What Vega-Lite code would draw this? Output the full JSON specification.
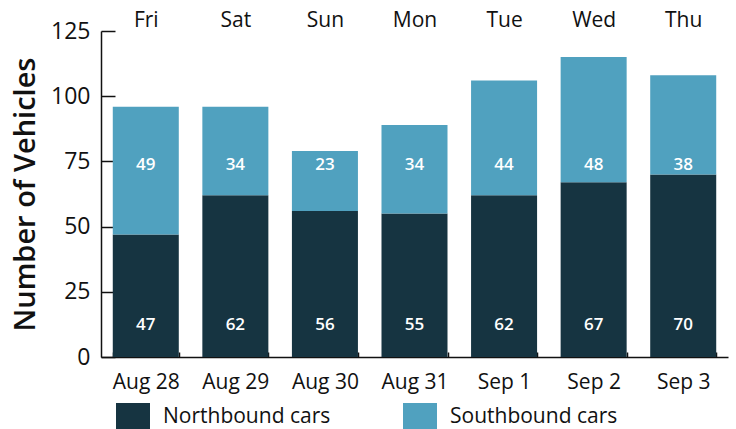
{
  "$schema": "https://vega.github.io/schema/vega-lite/v6.json",
  "width": 627,
  "height": 326,
  "autosize": {"type": "none"},
  "padding": {"left": 101, "top": 31, "right": 8, "bottom": 72},
  "config": {
    "font": "Open Sans",
    "view": {"stroke": null},
    "axis": {"labelFont": "Open Sans", "titleFont": "Open Sans", "labelColor": "#111111", "titleColor": "#111111", "domainColor": "#111111", "tickColor": "#111111", "labelFontWeight": 500}
  },
  "data": {
    "values": [
      {"date": "Aug 28", "day": "Fri", "direction": "Northbound cars", "count": 47},
      {"date": "Aug 28", "day": "Fri", "direction": "Southbound cars", "count": 49},
      {"date": "Aug 29", "day": "Sat", "direction": "Northbound cars", "count": 62},
      {"date": "Aug 29", "day": "Sat", "direction": "Southbound cars", "count": 34},
      {"date": "Aug 30", "day": "Sun", "direction": "Northbound cars", "count": 56},
      {"date": "Aug 30", "day": "Sun", "direction": "Southbound cars", "count": 23},
      {"date": "Aug 31", "day": "Mon", "direction": "Northbound cars", "count": 55},
      {"date": "Aug 31", "day": "Mon", "direction": "Southbound cars", "count": 34},
      {"date": "Sep 1", "day": "Tue", "direction": "Northbound cars", "count": 62},
      {"date": "Sep 1", "day": "Tue", "direction": "Southbound cars", "count": 44},
      {"date": "Sep 2", "day": "Wed", "direction": "Northbound cars", "count": 67},
      {"date": "Sep 2", "day": "Wed", "direction": "Southbound cars", "count": 48},
      {"date": "Sep 3", "day": "Thu", "direction": "Northbound cars", "count": 70},
      {"date": "Sep 3", "day": "Thu", "direction": "Southbound cars", "count": 38}
    ]
  },
  "layer": [
    {
      "mark": {"type": "bar"},
      "encoding": {
        "x": {
          "field": "date", "type": "nominal", "sort": null,
          "scale": {"paddingInner": 0.263, "paddingOuter": 0.1315},
          "axis": {"orient": "bottom", "title": null, "labelAngle": 0, "labelFontSize": 21, "labelPadding": 19, "tickBand": "extent", "tickSize": -5, "domainWidth": 1.5, "tickWidth": 1.5}
        },
        "y": {
          "field": "count", "type": "quantitative", "stack": "zero",
          "scale": {"domain": [0, 125], "nice": false},
          "axis": {"values": [0, 25, 50, 75, 100, 125], "title": "Number of Vehicles", "titleFontSize": 29, "titleFontWeight": 600, "titlePadding": 10, "labelFontSize": 23, "labelPadding": 25, "tickSize": -14, "grid": false, "domainWidth": 1.5, "tickWidth": 1.5}
        },
        "color": {
          "field": "direction", "type": "nominal",
          "scale": {"domain": ["Northbound cars", "Southbound cars"], "range": ["#163441", "#50a1bf"]},
          "legend": {
            "title": null, "orient": "none", "legendX": 15, "legendY": 369, "direction": "horizontal", "padding": 0,
            "symbolType": "M-1,-0.82H1V0.82H-1Z", "symbolSize": 1156, "symbolStrokeWidth": 0, "symbolOpacity": 1,
            "labelFontSize": 21, "labelFontWeight": 500, "labelOffset": 13, "labelColor": "#111111", "columnPadding": 72, "labelLimit": 300,
            "encode": {"symbols": {"update": {"fill": {"signal": "datum.value == 'Northbound cars' ? '#1e4858' : '#50a1bf'"}}}}
          }
        },
        "order": {"field": "direction", "sort": "ascending"}
      }
    },
    {
      "layer": [
        {
          "transform": [{"filter": "datum.direction == 'Northbound cars'"}],
          "mark": {"type": "text", "color": "white", "fontSize": 17, "fontWeight": 600, "baseline": "middle"},
          "encoding": {
            "x": {
              "field": "day", "type": "nominal", "sort": null,
              "scale": {"paddingInner": 0.263, "paddingOuter": 0.1315},
              "axis": {"orient": "top", "title": null, "labelAngle": 0, "labelFontSize": 21, "labelPadding": 1, "domain": false, "ticks": false}
            },
            "y": {"datum": 12.3, "type": "quantitative"},
            "text": {"field": "count", "type": "quantitative"}
          }
        },
        {
          "transform": [{"filter": "datum.direction == 'Southbound cars'"}],
          "mark": {"type": "text", "color": "white", "fontSize": 17, "fontWeight": 600, "baseline": "middle"},
          "encoding": {
            "x": {"field": "day", "type": "nominal", "sort": null},
            "y": {"datum": 73.6, "type": "quantitative"},
            "text": {"field": "count", "type": "quantitative"}
          }
        }
      ]
    }
  ],
  "resolve": {"scale": {"x": "independent"}, "axis": {"x": "independent"}}
}
